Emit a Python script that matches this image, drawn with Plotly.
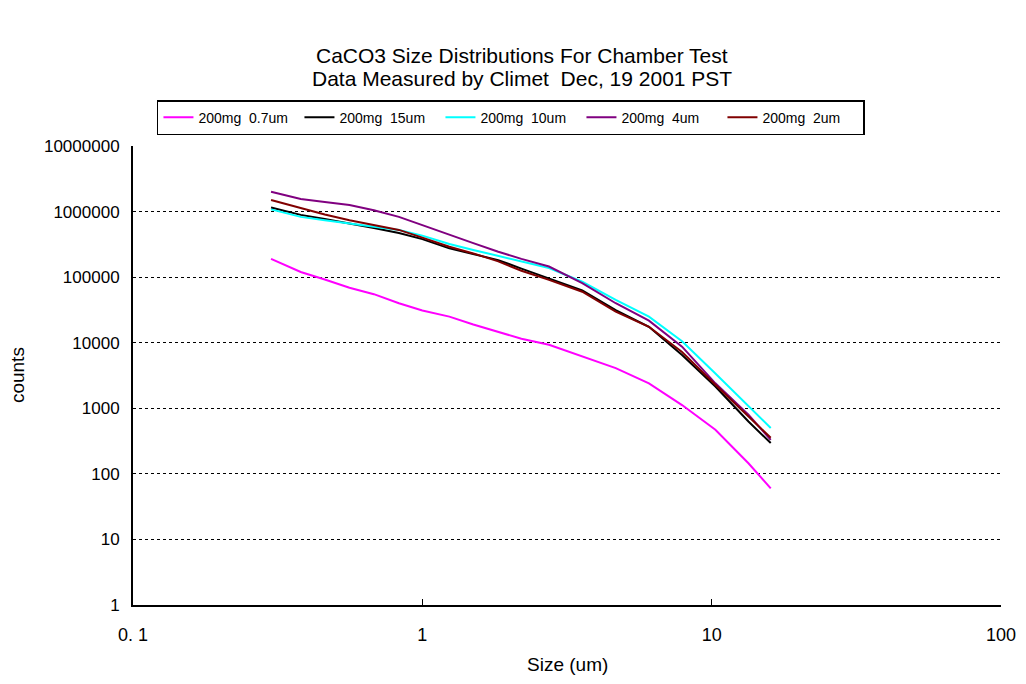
import plotly.graph_objects as go

sizes_um = [0.3, 0.38, 0.46, 0.56, 0.68, 0.83, 1.0, 1.24, 1.5, 1.83, 2.2, 2.74,
            3.57, 4.66, 6.07, 7.9, 10.3, 13.4, 16.0]

counts_07um = [190000, 120000, 92000, 69000, 55000, 40000, 31000, 25000, 19000, 14500,
               11500, 9300, 6200, 4100, 2400, 1120, 470, 145, 60]
counts_15um = [1150000, 890000, 770000, 660000, 560000, 470000, 380000, 275000, 225000,
               182000, 135000, 96000, 63000, 31500, 17500, 6500, 2150, 630, 295]
counts_10um = [1080000, 830000, 740000, 660000, 590000, 525000, 430000, 320000, 260000,
               210000, 170000, 138000, 85000, 45000, 25000, 10500, 3400, 1070, 500]
counts_4um = [2000000, 1550000, 1400000, 1260000, 1050000, 830000, 620000, 440000, 330000,
              244000, 190000, 145000, 81000, 40000, 21700, 8700, 2400, 800, 330]
counts_2um = [1500000, 1120000, 900000, 740000, 620000, 525000, 400000, 290000, 230000,
              174000, 125000, 91000, 60000, 29800, 17500, 7200, 2290, 740, 355]

series_names = ["200mg  0.7um", "200mg  15um", "200mg  10um", "200mg  4um", "200mg  2um"]
series_values = [counts_07um, counts_15um, counts_10um, counts_4um, counts_2um]
series_colors = ["#FF00FF", "#000000", "#00FFFF", "#800080", "#800000"]

title_lines = ["CaCO3 Size Distributions For Chamber Test",
               "Data Measured by Climet  Dec, 19 2001 PST"]
x_title = "Size (um)"
y_title = "counts"

x_tickvals = [0.1, 1, 10, 100]
x_ticktext = ["0. 1", "1", "10", "100"]
y_tickvals = [1, 10, 100, 1000, 10000, 100000, 1000000, 10000000]
y_ticktext = ["1", "10", "100", "1000", "10000", "100000", "1000000", "10000000"]

FONT = "Liberation Sans, Arial, sans-serif"

fig = go.Figure()
for name, vals, col in zip(series_names, series_values, series_colors):
    fig.add_trace(go.Scatter(x=sizes_um, y=vals, name=name, mode="lines",
                             line=dict(color=col, width=2)))

fig.update_layout(
    width=1010, height=668,
    paper_bgcolor="white", plot_bgcolor="white",
    margin=dict(l=125, r=17, t=138, b=71),
    font=dict(family=FONT, color="black", size=16),
    legend=dict(orientation="h", x=0.0276, xanchor="left", y=1.100, yanchor="top",
                bordercolor="black", borderwidth=1.5, bgcolor="white",
                font=dict(size=14, family=FONT), tracegroupgap=0,
                entrywidth=96),
    showlegend=True,
)

fig.add_annotation(text=title_lines[0], xref="paper", yref="paper", x=0.448, y=1.198,
                   xanchor="center", yanchor="middle", showarrow=False,
                   font=dict(size=21, family=FONT))
fig.add_annotation(text=title_lines[1], xref="paper", yref="paper", x=0.448, y=1.148,
                   xanchor="center", yanchor="middle", showarrow=False,
                   font=dict(size=21, family=FONT))
fig.add_annotation(text=x_title, xref="paper", yref="paper", x=0.5, y=-0.1307,
                   xanchor="center", yanchor="middle", showarrow=False,
                   font=dict(size=19, family=FONT))
fig.add_annotation(text=y_title, xref="paper", yref="paper", x=-0.1336, y=0.501,
                   xanchor="center", yanchor="middle", showarrow=False, textangle=-90,
                   font=dict(size=19, family=FONT))

fig.update_xaxes(type="log", range=[-1, 2], tickvals=x_tickvals, ticktext=x_ticktext,
                 showline=True, linecolor="black", linewidth=2, showgrid=False,
                 ticks="inside", ticklen=6, tickcolor="black", tickwidth=1,
                 ticklabelstandoff=12, zeroline=False, automargin=False,
                 tickfont=dict(size=18, family=FONT))
fig.update_yaxes(type="log", range=[0, 7], tickvals=y_tickvals, ticktext=y_ticktext,
                 showline=True, linecolor="black", linewidth=2,
                 showgrid=True, gridcolor="black", gridwidth=1, griddash="dot",
                 ticks="", ticklabelstandoff=8, zeroline=False, automargin=False,
                 tickfont=dict(size=17, family=FONT))

fig.write_html("out.html")
